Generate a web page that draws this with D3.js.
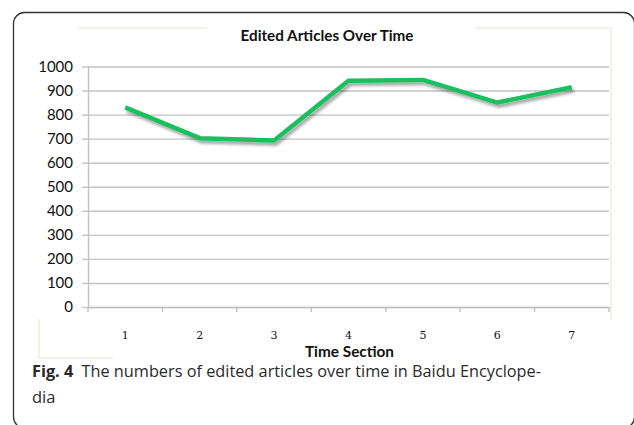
<!DOCTYPE html>
<html><head><meta charset="utf-8">
<script src="https://cdn.jsdelivr.net/npm/d3@7"></script>
<style>body{margin:0;background:#fff}</style>
</head><body>
<svg id="c" width="634" height="425"></svg>
<script>
const categories = ["1","2","3","4","5","6","7"];
const values = [830, 702, 692, 941, 944, 850, 914];
const yTicks = [0,100,200,300,400,500,600,700,800,900,1000];
const title = "Edited Articles Over Time";
const xTitle = "Time Section";

const svg = d3.select("#c");
const defs = svg.append("defs");
const f = defs.append("filter").attr("id","sh").attr("x","-10%").attr("y","-50%").attr("width","120%").attr("height","200%");
f.append("feDropShadow").attr("dx",2).attr("dy",3).attr("stdDeviation",1.5).attr("flood-color","#000").attr("flood-opacity",0.35);

// outer frame
svg.append("rect").attr("x",13.5).attr("y",12.5).attr("width",621).attr("height",415.5).attr("rx",11)
  .attr("fill","none").attr("stroke","#333").attr("stroke-width",1.3);

// faint chart-area border fragments
const faint = "#ecebe2";
[[78,28,207,28],[475,28,611,28],[611,28,611,320],[39,319,39,358],[39,358,113,358]].forEach(s=>{
  svg.append("line").attr("x1",s[0]).attr("y1",s[1]).attr("x2",s[2]).attr("y2",s[3]).attr("stroke",faint).attr("stroke-width",1.5);
});

const x = d3.scaleBand().domain(categories).range([88,609]);
const y = d3.scaleLinear().domain([0,1000]).range([307,66.5]);

// gridlines
const grid = svg.append("g").attr("transform","translate(88,0)")
  .call(d3.axisLeft(y).tickValues(yTicks).tickSize(-521).tickSizeOuter(0).tickFormat(""));
grid.select(".domain").remove();
grid.selectAll("line").attr("stroke","#c2c2c2").attr("stroke-width",1.4);

// y axis ticks + labels
const ya = svg.append("g").attr("transform","translate(88,0)")
  .call(d3.axisLeft(y).tickValues(yTicks).tickSize(6).tickSizeOuter(0).tickPadding(9).tickFormat(d3.format("d")));
ya.select(".domain").attr("stroke","#c2c2c2").attr("stroke-width",1.4);
ya.selectAll("line").attr("stroke","#c2c2c2").attr("stroke-width",1.4);
ya.selectAll("text").attr("font-family","Lato, 'Open Sans', sans-serif").attr("font-size",15).attr("fill","#111");

// x axis
const xa = svg.append("g").attr("transform","translate(0,307)")
  .call(d3.axisBottom(x).tickSize(0).tickSizeOuter(0).tickPadding(24));
xa.select(".domain").attr("stroke","#c2c2c2").attr("stroke-width",1.4);
xa.selectAll("text").attr("font-family","'DejaVu Serif', 'Liberation Serif', serif").attr("font-size",11).attr("fill","#111");
// boundary ticks
const bounds = categories.map(c=>x(c)).concat([x.range()[1]]);
svg.append("g").selectAll("line").data(bounds).join("line")
  .attr("x1",d=>d).attr("x2",d=>d).attr("y1",307).attr("y2",312)
  .attr("stroke","#c2c2c2").attr("stroke-width",1.4);

// line
const line = d3.line().x((d,i)=>x(categories[i])+x.bandwidth()/2).y(d=>y(d));
svg.append("path").datum(values).attr("d",line).attr("fill","none")
  .attr("stroke","#1fbf5f").attr("stroke-width",4.5).attr("stroke-linejoin","round")
  .attr("filter","url(#sh)");

// title
svg.append("text").attr("x",327).attr("y",40.7).attr("text-anchor","middle")
  .attr("font-family","Lato, 'Open Sans', sans-serif").attr("font-weight","bold").attr("font-size",15)
  .attr("fill","#111").attr("textLength",173).attr("lengthAdjust","spacingAndGlyphs").text(title);
svg.append("text").attr("x",349.5).attr("y",356.7).attr("text-anchor","middle")
  .attr("font-family","Lato, 'Open Sans', sans-serif").attr("font-weight","bold").attr("font-size",15)
  .attr("fill","#111").attr("textLength",89).attr("lengthAdjust","spacingAndGlyphs").text(xTitle);

// caption
const cap = svg.append("text").attr("x",32).attr("y",377.3)
  .attr("font-family","'Open Sans', 'Noto Sans', sans-serif").attr("font-size",16.5).attr("fill","#2a2a2a")
  .attr("textLength",509).attr("lengthAdjust","spacingAndGlyphs");
cap.append("tspan").attr("font-weight","bold").text("Fig. 4");
cap.append("tspan").text("\u2002The numbers of edited articles over time in Baidu Encyclope-");
svg.append("text").attr("x",32).attr("y",402.7)
  .attr("font-family","'Open Sans', 'Noto Sans', sans-serif").attr("font-size",16.5).attr("fill","#2a2a2a").text("dia");
</script>
</body></html>
